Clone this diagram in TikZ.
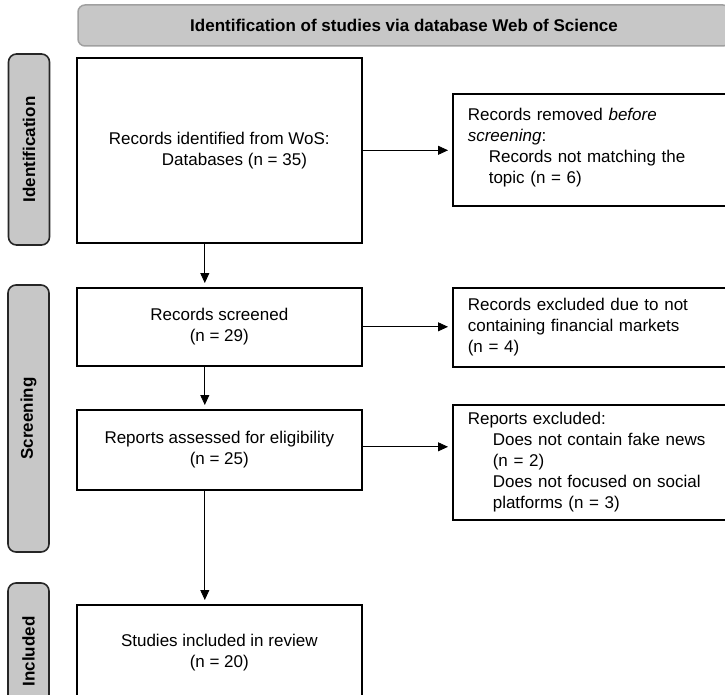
\documentclass[tikz,border=0pt]{standalone}
\usepackage{fontspec}
\setmainfont{Liberation Sans}
\usetikzlibrary{arrows.meta}

\definecolor{barfill}{RGB}{199,199,199}
\definecolor{headedge}{RGB}{160,160,160}

\tikzset{
  box/.style={draw=black,line width=1.6pt,fill=white,anchor=north west,
    minimum width=285pt,align=center,inner sep=0pt},
  sidebox/.style={draw=black,line width=1.6pt,fill=white,anchor=north west,
    align=left,inner xsep=15pt,inner ysep=0pt,text width=263pt},
  phase/.style={draw=black!85,line width=1.6pt,fill=barfill,rounded corners=8pt,
    minimum height=41pt,rotate=90,font=\fontsize{17}{21}\bfseries},
  header/.style={draw=headedge,line width=1.5pt,fill=barfill,rounded corners=7pt,
    minimum width=652pt,minimum height=41pt,font=\fontsize{17}{21}\bfseries},
  arr/.style={-{Triangle[length=10pt,width=9pt]},line width=0.8pt,shorten >=4pt}
}

\begin{document}
\begin{tikzpicture}[x=1pt,y=-1pt,font=\fontsize{17}{21}\selectfont]
  \useasboundingbox (0,0) rectangle (725,695);
  \clip (0,0) rectangle (725,695);

  % header and phases
  \node[header] (head) at (404,25.5) {Identification of studies via database Web of Science};
  \node[phase,minimum width=191pt] (phid) at (29,149.5) {Identification};
  \node[phase,minimum width=267pt] (phsc) at (28.5,418.5) {Screening};
  \node[phase,minimum width=137pt] (phin) at (28.5,651.5) {Included};

  % main column
  \node[box,align=left,minimum height=185pt] (ident) at (76,57)
       {Records identified from WoS:\\\hspace*{53pt}Databases (n = 35)};
  \node[box,minimum height=78pt] (screened) at (76,287)
       {Records screened\\(n = 29)};
  \node[box,minimum height=80pt] (assessed) at (76,409)
       {Reports assessed for eligibility\\(n = 25)};
  \node[box,minimum height=95pt] (studies) at (76,604)
       {Studies included in review\\(n = 20)};

  % right column
  \node[sidebox,minimum height=112pt] (removed) at (452,93)
       {Records removed \textit{before}\\\textit{screening}:\\
        \hspace*{21pt}Records not matching the\\\hspace*{21pt}topic (n = 6)\\[-13pt]\mbox{}};
  \node[sidebox,minimum height=79pt] (excluded) at (452,287)
       {Records excluded due to not\\containing financial markets\\(n = 4)};
  \node[sidebox,minimum height=115pt] (repexcl) at (452,404)
       {Reports excluded:\\\hspace*{25pt}Does not contain fake news\\\hspace*{25pt}(n = 2)\\
        \hspace*{25pt}Does not focused on social\\\hspace*{25pt}platforms (n = 3)};

  % arrows
  \draw[arr] ([xshift=-14.5pt]ident.south) -- ([xshift=-14.5pt]screened.north);
  \draw[arr] ([xshift=-14.5pt]screened.south) -- ([xshift=-14.5pt]assessed.north);
  \draw[arr] ([xshift=-14.5pt]assessed.south) -- ([xshift=-14.5pt]studies.north);
  %
  \draw[arr] (ident.east) -- (ident.east -| removed.west);
  \draw[arr] (screened.east) -- (screened.east -| excluded.west);
  \draw[arr] ([yshift=3pt]assessed.east) -- ([yshift=3pt]assessed.east -| repexcl.west);
\end{tikzpicture}
\end{document}
